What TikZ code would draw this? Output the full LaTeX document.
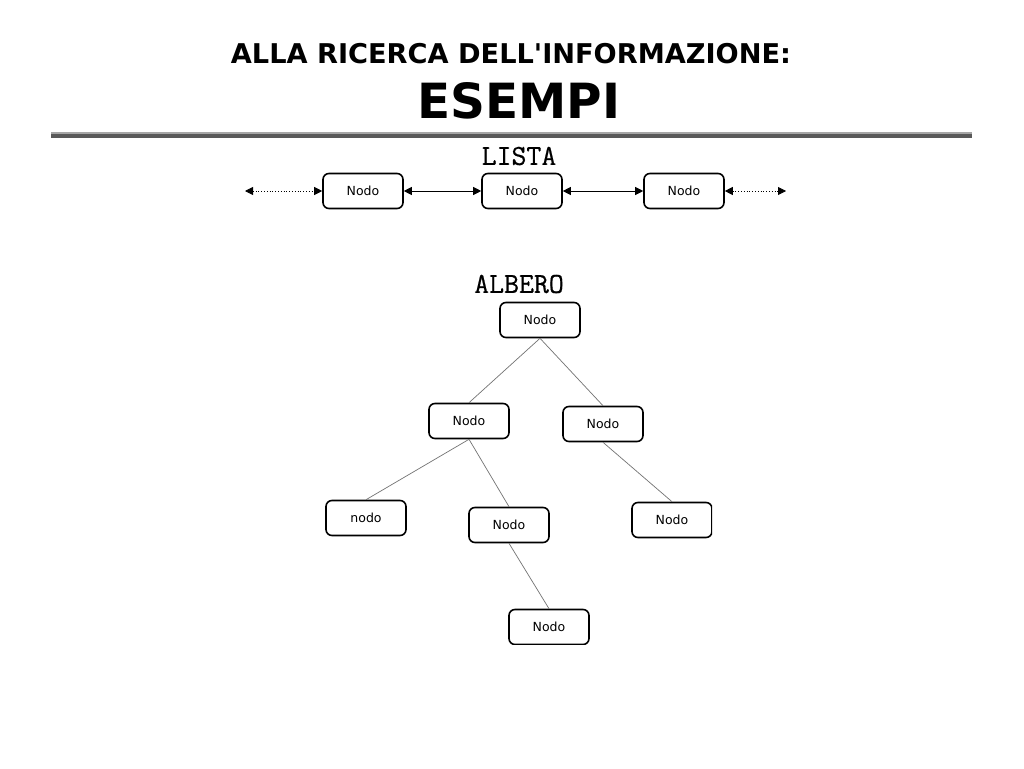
\documentclass[tikz,border=0pt]{standalone}
\usepackage{fontspec}
\setmainfont[Ligatures=TeXOff]{DejaVu Sans}
\newfontfamily\headfont[FakeBold=0.6]{Latin Modern Mono}
\usetikzlibrary{arrows.meta}
\tikzset{
  nodebox/.style={draw, line width=1.6pt, rounded corners=6pt, minimum width=80pt, minimum height=35pt, inner sep=0pt, font=\fontsize{12.5pt}{14pt}\selectfont, fill=white},
  linkarrow/.style={{Triangle[length=8pt,width=8pt]}-{Triangle[length=8pt,width=8pt]}, line width=0.8pt},
  dotarrow/.style={linkarrow, dotted},
  branch/.style={draw=black!55, line width=0.7pt},
  heading/.style={font=\headfont\fontsize{29pt}{30pt}\selectfont}
}
\begin{document}
\begin{tikzpicture}[x=1pt,y=-1pt]
\useasboundingbox (0,0) rectangle (1024,768);
\fill[white] (0,0) rectangle (1024,768);
% title
\node (t1) at (511,54) {\fontsize{27.2pt}{30pt}\selectfont\bfseries ALLA RICERCA DELL'INFORMAZIONE:};
\node (t2) at (519,101) {\fontsize{48.5pt}{52pt}\selectfont\bfseries ESEMPI};
\fill[black!35] (51,131.7) rectangle (972,134.3);
\fill[black!65] (51,134.3) rectangle (972,137.7);
% list
\node[heading] (lista) at (519,156) {LISTA};
\node[nodebox] (l1) at (363,191) {Nodo};
\node[nodebox] (l2) at (522,191) {Nodo};
\node[nodebox] (l3) at (684,191) {Nodo};
\coordinate (lfree) at (245,191);
\coordinate (rfree) at (786,191);
\draw[dotarrow] (lfree) -- (l1);
\draw[linkarrow] (l1) -- (l2);
\draw[linkarrow] (l2) -- (l3);
\draw[dotarrow] (l3) -- (rfree);
% tree
\node[heading] (albero) at (519,284) {ALBERO};
\node[nodebox] (root) at (540,320) {Nodo};
\node[nodebox] (a) at (469,421) {Nodo};
\node[nodebox] (b) at (603,424) {Nodo};
\node[nodebox] (c) at (366,518) {nodo};
\node[nodebox] (d) at (509,525) {Nodo};
\begin{scope}
\clip (0,0) rectangle (712,644);
\node[nodebox] (e) at (672,520) {Nodo};
\node[nodebox] (f) at (549,627) {Nodo};
\end{scope}
\draw[branch] (root.south) -- (a.north);
\draw[branch] (root.south) -- (b.north);
\draw[branch] (a.south) -- (c.north);
\draw[branch] (a.south) -- (d.north);
\draw[branch] (b.south) -- (e.north);
\draw[branch] (d.south) -- (f.north);
\end{tikzpicture}
\end{document}
